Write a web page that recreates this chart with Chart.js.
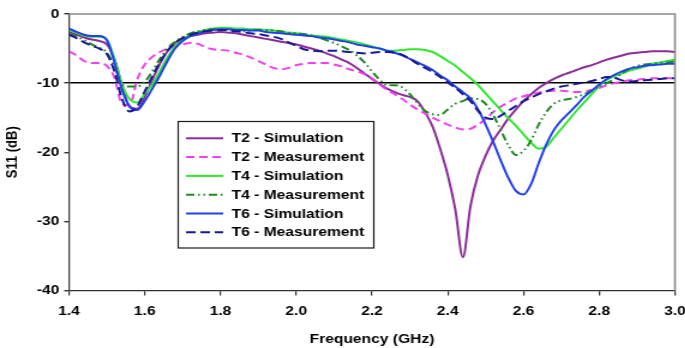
<!DOCTYPE html>
<html><head><meta charset="utf-8">
<script src="https://cdn.jsdelivr.net/npm/chart.js@4.4.1/dist/chart.umd.min.js"></script>
<style>
html,body{margin:0;padding:0;background:#fff;overflow:hidden}
#wrap{width:571px;height:348px;transform:scaleX(1.2);transform-origin:0 0}
canvas{display:block}
</style>
</head><body>
<div id="wrap"><canvas id="c" width="571" height="348"></canvas></div>
<script>
// Frequency samples (GHz)
const freqGHz = [
  1.40,1.42,1.44,1.46,1.48,1.50,1.52,1.54,1.56,1.58,
  1.60,1.62,1.64,1.66,1.68,1.70,1.72,1.74,1.76,1.78,
  1.80,1.82,1.84,1.86,1.88,1.90,1.92,1.94,1.96,1.98,
  2.00,2.02,2.04,2.06,2.08,2.10,2.12,2.14,2.16,2.18,
  2.20,2.22,2.24,2.26,2.28,2.30,2.32,2.34,2.36,2.38,
  2.40,2.42,2.44,2.46,2.48,2.50,2.52,2.54,2.56,2.58,
  2.60,2.62,2.64,2.66,2.68,2.70,2.72,2.74,2.76,2.78,
  2.80,2.82,2.84,2.86,2.88,2.90,2.92,2.94,2.96,2.98,
  3.00
];
const xTicks = [1.4,1.6,1.8,2.0,2.2,2.4,2.6,2.8,3.0];
const yTicks = [-40,-30,-20,-10,0];
const seriesNames = ['T2 - Simulation','T2 - Measurement','T4 - Simulation','T4 - Measurement','T6 - Simulation','T6 - Measurement'];

const t2Sim = [
  -2.6,-3.0,-3.4,-3.7,-3.9,-4.4,-6.5,-10.3,-13.4,-13.7,
  -12.0,-9.5,-7.2,-5.4,-4.2,-3.5,-3.2,-3.0,-2.8,-2.7,
  -2.6,-2.7,-2.8,-3.0,-3.2,-3.4,-3.6,-3.8,-4.0,-4.2,
  -4.4,-4.7,-5.0,-5.3,-5.7,-6.1,-6.6,-7.1,-7.8,-8.6,
  -9.4,-10.1,-10.8,-11.3,-11.7,-12.0,-12.6,-14.2,-16.3,-19.5,
  -23.3,-28.3,-35.2,-27.8,-23.3,-20.5,-18.3,-16.7,-15.1,-13.8,
  -12.6,-11.6,-10.7,-10.0,-9.4,-8.9,-8.5,-8.1,-7.7,-7.4,
  -7.0,-6.6,-6.3,-6.0,-5.7,-5.6,-5.5,-5.4,-5.4,-5.4,
  -5.5
];
const t2Meas = [
  -5.4,-6.0,-6.8,-7.1,-7.1,-7.5,-9.2,-13.0,-13.2,-9.5,
  -7.3,-6.2,-5.5,-5.0,-4.7,-4.4,-4.2,-4.3,-4.8,-5.1,
  -5.2,-5.3,-5.6,-5.9,-6.3,-6.8,-7.3,-7.8,-8.0,-7.8,
  -7.4,-7.2,-7.1,-7.1,-7.1,-7.3,-7.6,-8.0,-8.3,-8.7,
  -9.3,-10.2,-11.0,-11.6,-12.3,-13.1,-13.8,-14.4,-15.0,-15.5,
  -16.0,-16.4,-16.7,-16.6,-16.0,-15.2,-14.2,-13.4,-12.8,-12.2,
  -11.9,-11.6,-11.4,-11.2,-11.1,-11.1,-11.2,-11.3,-11.2,-11.0,
  -10.7,-10.3,-10.0,-9.8,-9.6,-9.5,-9.4,-9.3,-9.3,-9.3,
  -9.3
];
const t4Sim = [
  -2.3,-2.7,-3.1,-3.3,-3.3,-3.7,-6.5,-10.2,-12.3,-12.8,
  -11.5,-10.2,-8.3,-6.3,-4.7,-3.7,-3.0,-2.6,-2.3,-2.1,
  -2.0,-2.0,-2.1,-2.1,-2.2,-2.2,-2.3,-2.4,-2.6,-2.7,
  -2.8,-3.0,-3.1,-3.2,-3.3,-3.5,-3.7,-3.9,-4.1,-4.4,
  -4.7,-5.0,-5.3,-5.3,-5.2,-5.1,-5.1,-5.2,-5.5,-6.1,
  -6.8,-7.5,-8.4,-9.3,-10.3,-11.5,-12.7,-13.9,-15.1,-16.2,
  -17.4,-18.6,-19.5,-19.2,-17.9,-16.6,-15.3,-14.0,-12.8,-11.6,
  -10.4,-9.5,-9.0,-8.6,-8.2,-7.9,-7.6,-7.2,-7.0,-6.8,
  -6.6
];
const t4Meas = [
  -2.9,-3.2,-3.8,-4.4,-4.9,-5.6,-7.6,-10.2,-10.5,-10.5,
  -9.8,-8.3,-6.5,-5.0,-4.0,-3.3,-2.8,-2.5,-2.3,-2.2,
  -2.2,-2.3,-2.4,-2.5,-2.4,-2.3,-2.3,-2.4,-2.5,-2.7,
  -2.8,-2.9,-3.1,-3.4,-3.8,-4.2,-4.7,-5.2,-6.0,-7.0,
  -8.3,-9.5,-10.3,-10.3,-10.6,-11.6,-12.9,-14.0,-14.5,-14.6,
  -13.8,-13.0,-12.6,-12.2,-12.3,-13.0,-14.6,-16.8,-19.0,-20.4,
  -19.8,-18.3,-16.0,-14.2,-13.0,-12.5,-12.3,-12.0,-11.6,-11.1,
  -10.5,-10.0,-9.4,-8.6,-7.9,-7.5,-7.3,-7.2,-7.1,-7.0,
  -6.9
];
const t6Sim = [
  -2.1,-2.6,-3.0,-3.2,-3.2,-3.8,-7.0,-11.0,-13.4,-13.9,
  -12.6,-10.8,-8.9,-6.8,-5.0,-3.9,-3.2,-2.8,-2.5,-2.3,
  -2.2,-2.2,-2.3,-2.3,-2.4,-2.4,-2.6,-2.7,-2.8,-2.9,
  -3.0,-3.1,-3.2,-3.4,-3.5,-3.7,-3.9,-4.1,-4.4,-4.6,
  -4.8,-5.0,-5.3,-5.6,-6.0,-6.5,-7.0,-7.5,-8.1,-8.9,
  -9.6,-10.5,-11.3,-12.2,-13.8,-16.0,-18.5,-21.2,-23.7,-25.6,
  -26.1,-24.6,-21.6,-18.9,-16.8,-15.4,-14.3,-13.2,-12.0,-11.1,
  -10.2,-9.4,-8.8,-8.3,-7.9,-7.7,-7.5,-7.4,-7.3,-7.2,
  -7.2
];
const t6Meas = [
  -3.0,-3.5,-4.1,-4.6,-5.0,-5.8,-8.3,-12.3,-14.1,-13.4,
  -11.2,-9.0,-7.0,-5.3,-4.2,-3.5,-3.0,-2.7,-2.5,-2.4,
  -2.3,-2.4,-2.5,-2.6,-2.8,-2.9,-3.1,-3.3,-3.6,-4.1,
  -4.6,-5.1,-5.3,-5.4,-5.3,-5.3,-5.4,-5.5,-5.6,-5.7,
  -5.6,-5.5,-5.5,-5.6,-5.9,-6.5,-7.2,-7.8,-8.4,-9.1,
  -9.9,-10.7,-11.6,-12.6,-14.0,-15.0,-15.2,-14.7,-14.0,-13.3,
  -12.6,-12.1,-11.6,-11.2,-10.8,-10.5,-10.3,-10.1,-9.9,-9.7,
  -9.4,-9.1,-9.2,-9.6,-9.8,-9.7,-9.6,-9.5,-9.4,-9.3,
  -9.3
];

const FONT = "'Liberation Sans', Arial, sans-serif";
Chart.defaults.font.family = FONT;
Chart.defaults.font.size = 13;
Chart.defaults.font.weight = 'bold';
Chart.defaults.color = '#000';

const styles = [
  {c:'#8B2D99', d:[]},
  {c:'#F040F0', d:[7,4]},
  {c:'#2EE82E', d:[]},
  {c:'#1F8A1F', d:[7,3,1.5,3,1.5,3]},
  {c:'#2040F0', d:[]},
  {c:'#1A1A90', d:[8,4]}
];
const values = [t2Sim,t2Meas,t4Sim,t4Meas,t6Sim,t6Meas];

const datasets = values.map((v,i)=>({
  label: seriesNames[i],
  data: v,
  borderColor: styles[i].c,
  borderDash: styles[i].d,
  borderWidth: 2,
  pointRadius: 0,
  fill: false,
  cubicInterpolationMode: 'monotone',
  order: 5 - i
}));

const framePlugin = {
  id: 'frameLegend',
  afterDatasetsDraw(chart){
    const {ctx, chartArea:a} = chart;
    ctx.save();
    ctx.strokeStyle = '#8a8a8a';
    ctx.lineWidth = 1.6;
    ctx.beginPath();
    ctx.moveTo(a.left, a.top);
    ctx.lineTo(a.right, a.top);
    ctx.lineTo(a.right, a.bottom);
    ctx.stroke();
    // legend box
    const bx = 148.5, by = 121.5, bw = 163, bh = 126.5;
    ctx.fillStyle = '#fff';
    ctx.fillRect(bx, by, bw, bh);
    ctx.strokeStyle = '#1a1a1a';
    ctx.lineWidth = 1.2;
    ctx.strokeRect(bx, by, bw, bh);
    chart.data.datasets.forEach((ds,i)=>{
      const y = 138.3 + i*18.8;
      ctx.setLineDash(ds.borderDash || []);
      ctx.strokeStyle = ds.borderColor;
      ctx.lineWidth = 2;
      ctx.beginPath();
      ctx.moveTo(155, y);
      ctx.lineTo(186, y);
      ctx.stroke();
      ctx.setLineDash([]);
      ctx.fillStyle = '#000';
      ctx.font = "bold 13px " + FONT;
      ctx.textBaseline = 'middle';
      ctx.textAlign = 'left';
      ctx.fillText(ds.label, 193, y + 0.5);
    });
    ctx.restore();
  }
};

new Chart(document.getElementById('c'), {
  type: 'line',
  data: { labels: freqGHz, datasets },
  options: {
    responsive: false,
    devicePixelRatio: 1,
    animation: false,
    events: [],
    layout: { padding: { left: 0, right: 8.5, top: 14, bottom: 0 } },
    plugins: { legend: { display: false }, tooltip: { enabled: false } },
    scales: {
      x: {
        type: 'linear', min: 1.4, max: 3.0,
        afterBuildTicks: s => { s.ticks = xTicks.map(v => ({ value: v })); },
        afterFit: s => { s.height = 57.5; s.paddingLeft = 0; s.paddingRight = 0; },
        grid: { drawOnChartArea: false, tickColor: '#333', tickLength: 5, lineWidth: 1.2 },
        border: { color: '#333', width: 1.3 },
        ticks: { padding: 8, maxRotation: 0, autoSkip: false, color: '#000',
                 callback: v => Number(v).toFixed(1) },
        title: { display: true, text: 'Frequency (GHz)', color: '#000',
                 padding: { top: 0, bottom: 1 } }
      },
      y: {
        type: 'linear', min: -40, max: 0,
        afterBuildTicks: s => { s.ticks = yTicks.map(v => ({ value: v })); },
        afterFit: s => { s.width = 57.5; s.paddingTop = 0; s.paddingBottom = 0; },
        grid: {
          drawOnChartArea: true,
          color: c => (c.tick && c.tick.value === -10) ? '#000' : 'rgba(0,0,0,0)',
          lineWidth: 1.4,
          tickColor: '#333', tickLength: 4
        },
        border: { color: '#444', width: 1.3 },
        ticks: { padding: 4, color: '#000', callback: v => String(v) },
        title: { display: true, text: 'S11 (dB)', color: '#000',
                 padding: { top: 3, bottom: 0 } }
      }
    }
  },
  plugins: [framePlugin]
});
</script>
</body></html>
